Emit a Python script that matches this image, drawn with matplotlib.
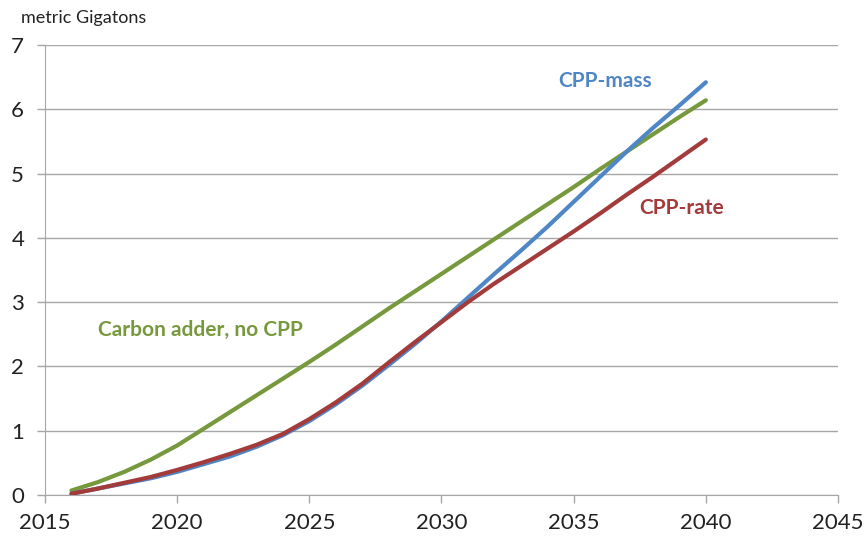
import matplotlib
matplotlib.use('Agg')
import matplotlib.pyplot as plt

# Cumulative emissions reductions, metric Gigatons
years = list(range(2016, 2041))
carbon_adder = [0.07, 0.2, 0.36, 0.55, 0.77, 1.03, 1.29, 1.55, 1.81, 2.07, 2.34, 2.62, 2.9, 3.17,
                3.44, 3.71, 3.98, 4.25, 4.52, 4.79, 5.07, 5.34, 5.61, 5.88, 6.14]
cpp_mass = [0.02, 0.1, 0.18, 0.26, 0.36, 0.48, 0.6, 0.75, 0.93, 1.15, 1.41, 1.7, 2.02, 2.35,
            2.7, 3.07, 3.44, 3.8, 4.17, 4.56, 4.95, 5.34, 5.71, 6.06, 6.42]
cpp_rate = [0.02, 0.1, 0.19, 0.28, 0.39, 0.51, 0.64, 0.78, 0.95, 1.18, 1.44, 1.73, 2.06, 2.38,
            2.69, 3.0, 3.29, 3.56, 3.83, 4.1, 4.38, 4.67, 4.95, 5.24, 5.53]

x_ticks = [2015, 2020, 2025, 2030, 2035, 2040, 2045]
y_ticks = [0, 1, 2, 3, 4, 5, 6, 7]

green = '#77993D'
blue = '#4F86C6'
red = '#A33B3B'
grid_col = '#A6A6A6'

plt.rcParams['font.family'] = ['Lato', 'DejaVu Sans']

fig = plt.figure(figsize=(8.68, 5.4), dpi=100)
ax = fig.add_axes([45 / 868, 45 / 540, (838 - 45) / 868, (495 - 45) / 540])

ax.plot(years, carbon_adder, color=green, lw=3, solid_capstyle='round', solid_joinstyle='round', zorder=3)
ax.plot(years, cpp_mass, color=blue, lw=3, solid_capstyle='round', solid_joinstyle='round', zorder=4)
ax.plot(years, cpp_rate, color=red, lw=3, solid_capstyle='round', solid_joinstyle='round', zorder=5)

ax.set_xlim(2015, 2045)
ax.set_ylim(0, 7)
ax.set_xticks(x_ticks)
ax.set_yticks(y_ticks)
ax.tick_params(axis='both', labelsize=16, colors='#222222', length=6, width=1)
ax.tick_params(axis='x', color=grid_col, pad=7)
ax.tick_params(axis='y', color=grid_col, pad=9)
ax.yaxis.grid(True, color=grid_col, lw=1)
ax.set_axisbelow(True)
for s in ['top', 'right']:
    ax.spines[s].set_visible(False)
for s in ['left', 'bottom']:
    ax.spines[s].set_color(grid_col)

fig.text(21 / 868, 1 - 18 / 540, 'metric Gigatons', fontsize=13, color='#222222', va='center')

ax.text(2034.4, 6.44, 'CPP-mass', color=blue, fontsize=15, fontweight='bold', va='center')
ax.text(2037.5, 4.46, 'CPP-rate', color=red, fontsize=15, fontweight='bold', va='center')
ax.text(2017.0, 2.56, 'Carbon adder, no CPP', color=green, fontsize=15, fontweight='bold', va='center')

fig.savefig('out.png', dpi=100)
